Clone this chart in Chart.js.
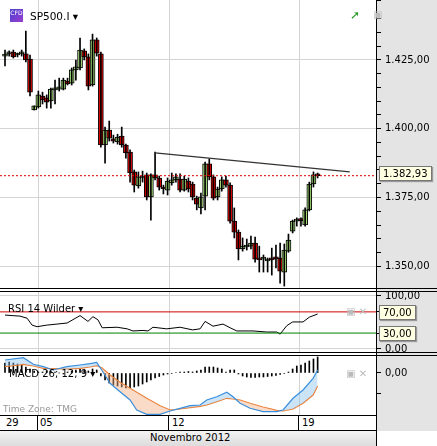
<!DOCTYPE html>
<html>
<head>
<meta charset="utf-8">
<script src="https://cdn.jsdelivr.net/npm/chart.js@4.4.0/dist/chart.umd.min.js"></script>
<style>
  body { margin: 0; background: #fff; font-family: "DejaVu Sans", sans-serif; }
  #wrap { position: relative; width: 437px; height: 446px; overflow: hidden; background: #fff; }
  .abs { position: absolute; }
  canvas { position: absolute; left: 0; }
  .lbl { position: absolute; font-size: 10px; color: #000; white-space: nowrap; }
  .box { position: absolute; background: #ffffe1; border: 1px solid #777; font-size: 10px; padding: 1px 3px; box-shadow: 1px 1px 1px #999; }
  .hl { position: absolute; background: #000; height: 1px; }
</style>
</head>
<body>
<div id="wrap">
  <div class="abs" style="left:376px;top:0;width:61px;height:431px;background:#e4e4e4;"></div>
  <canvas id="main" width="437" height="288" style="top:0"></canvas>
  <canvas id="rsi" width="437" height="60" style="top:292px"></canvas>
  <canvas id="macd" width="437" height="60" style="top:355px"></canvas>
  <div class="hl" style="left:0;top:288px;width:437px;"></div>
  <div class="hl" style="left:0;top:291px;width:437px;"></div>
  <div class="hl" style="left:0;top:352px;width:437px;"></div>
  <div class="hl" style="left:0;top:355px;width:437px;"></div>
  <div class="abs" style="left:376px;top:0;width:1px;height:446px;background:#000;"></div>
  <!-- date axis -->
  <div class="abs" style="left:0;top:415px;width:376px;height:16px;border-top:1px solid #000;border-bottom:1px solid #000;box-sizing:border-box;background:#fff;"></div>
  <div class="abs" style="left:37px;top:415px;width:1px;height:16px;background:#000;"></div>
  <div class="abs" style="left:168px;top:415px;width:1px;height:16px;background:#000;"></div>
  <div class="abs" style="left:298px;top:415px;width:1px;height:16px;background:#000;"></div>
  <div class="lbl" style="left:6px;top:417px;">29</div>
  <div class="lbl" style="left:40px;top:417px;">05</div>
  <div class="lbl" style="left:172px;top:417px;">12</div>
  <div class="lbl" style="left:302px;top:417px;">19</div>
  <div class="abs" style="left:0;top:431px;width:376px;height:15px;background:linear-gradient(#f4f4f4,#dcdcdc);"></div>
  <div class="lbl" style="left:150px;top:432px;">Novembro 2012</div>
  <!-- headers -->
  <div class="abs" style="left:10px;top:9px;width:13px;height:13px;background:linear-gradient(135deg,#4b3fd0,#9a3fd0);color:#fff;font-size:6px;line-height:7px;text-align:center;">CFD</div>
  <div class="lbl" style="left:30px;top:10px;font-size:10.5px;">SP500.I &#9662;</div>
  <div class="lbl" style="left:350px;top:8px;color:#2a9a2a;font-size:12px;font-weight:bold;">&#10138;</div>
  <div class="lbl" style="left:373px;top:9px;color:#bbb;font-size:10px;">&#9635;</div>
  <div class="lbl" style="left:8px;top:303px;">RSI 14 Wilder &#9662;</div>
  <div class="lbl" style="left:346px;top:306px;color:#bbb;">&#9635; &#10005;</div>
  <div class="lbl" style="left:9px;top:368px;">MACD 26; 12; 9 &#9662;</div>
  <div class="lbl" style="left:346px;top:368px;color:#bbb;">&#9635; &#10005;</div>
  <div class="lbl" style="left:3px;top:404px;color:#999;font-size:9px;">Time Zone: TMG</div>
  <div class="box" style="left:379px;top:166px;">1.382,93</div>
  <div class="box" style="left:379px;top:305px;">70,00</div>
  <div class="box" style="left:379px;top:326px;">30,00</div>
</div>
<script>
// candles: open, close, high, low
const opens  = [1426.4,1427.2,1427.9,1426.8,1427.2,1427.2,1425.3,1406.8,1407.9,1411.9,1411.2,1410.1,1414.1,1414.4,1414.4,1417.3,1416.6,1421.4,1422.1,1428.3,1426.1,1415.9,1432.3,1427.2,1394.1,1399.5,1396.3,1395.2,1397.3,1394.1,1391.5,1384.3,1379.2,1382.1,1383.2,1375.2,1383.2,1382.1,1378.8,1377.7,1380.3,1381.4,1381.7,1377.7,1381.0,1379.9,1374.8,1371.2,1375.5,1387.2,1382.5,1375.2,1378.1,1381.4,1379.5,1366.4,1362.4,1356.3,1357.0,1357.3,1358.4,1353.0,1352.6,1351.9,1352.6,1353.0,1353.0,1347.9,1355.5,1362.8,1366.4,1366.7,1365.0,1370.5,1379.9,1383.2];
const closes = [1426.8,1427.5,1426.1,1427.2,1427.5,1425.0,1413.3,1408.3,1412.3,1410.5,1409.7,1414.4,1414.8,1415.2,1417.7,1416.3,1421.4,1422.5,1428.6,1426.1,1415.5,1432.3,1427.5,1394.1,1399.5,1396.6,1395.5,1397.0,1394.1,1391.2,1383.9,1379.5,1382.5,1382.8,1375.2,1383.2,1382.1,1378.8,1378.1,1381.0,1381.4,1382.5,1377.7,1381.7,1378.1,1375.2,1372.6,1375.2,1387.2,1382.5,1374.8,1378.1,1381.4,1379.5,1366.4,1362.4,1356.3,1357.3,1357.7,1358.4,1352.6,1352.3,1352.9,1352.3,1352.3,1352.7,1348.2,1355.9,1359.5,1366.4,1366.7,1366.6,1370.5,1379.9,1383.2,1382.9];
const highs  = [1428.6,1428.3,1428.6,1427.5,1428.6,1435.5,1426.8,1408.3,1413.7,1413.3,1412.3,1414.8,1417.7,1418.4,1418.4,1418.4,1422.1,1425.0,1433.0,1429.0,1427.2,1434.4,1433.0,1427.9,1400.6,1402.8,1397.7,1398.0,1400.6,1394.4,1392.3,1385.0,1384.3,1384.6,1383.9,1383.6,1391.5,1382.8,1379.5,1382.1,1383.9,1383.6,1383.6,1382.8,1382.1,1380.6,1375.5,1376.6,1387.9,1389.0,1383.2,1378.8,1382.5,1382.8,1380.3,1371.2,1363.2,1360.3,1359.9,1361.0,1360.6,1357.3,1354.1,1353.0,1356.6,1357.7,1358.4,1358.1,1361.7,1366.8,1367.6,1367.6,1371.2,1380.6,1384.3,1383.9];
const lows   = [1422.8,1426.4,1425.7,1426.1,1426.4,1424.3,1411.9,1406.8,1407.5,1409.0,1407.5,1407.5,1409.0,1413.7,1414.1,1415.9,1415.9,1417.7,1421.4,1425.0,1414.1,1415.5,1426.4,1393.3,1387.5,1395.5,1394.8,1394.4,1393.3,1389.3,1380.6,1377.0,1378.4,1380.6,1374.1,1366.8,1381.4,1377.7,1376.3,1375.9,1379.5,1380.6,1377.0,1377.3,1377.0,1374.1,1370.5,1369.0,1370.5,1381.4,1374.1,1374.1,1377.3,1378.8,1365.7,1360.3,1352.3,1355.5,1355.9,1356.3,1351.5,1347.9,1347.9,1347.9,1346.8,1349.4,1343.9,1342.8,1355.1,1362.1,1364.6,1364.6,1364.6,1370.1,1378.8,1382.1];
const lastPrice = 1382.93;
const trendX = [36, 82.7];
const trendY = [1391.2, 1384.3];

const rsiX = [0,1.7,3.6,5.3,6.5,7.7,10,12.5,14.9,18,19.9,21.1,22.3,23.3,26.9,29.3,30.7,33.1,34.3,35.5,38.8,42,45,46.8,48,49.9,52.3,54,55.6,59.5,62.8,65.2,66,67.6,69,71.5,73,75];
const rsiY = [64,63,62,58,45,42,45,47,49,63,52,61,55,40,41,38,34,35,34,41,38,41,36,38,52,43,47,40,34,34,32,32,28,44,51,51,60,66];

const macdX = [0,4.4,6.8,9.2,11.6,14.8,18,20.4,22,23.2,25.2,27.6,30,31.6,34,37.2,39.6,42,44.4,46.8,48.4,50.8,53.2,54.7,56.4,58.8,61.9,65.2,66.7,69.1,71.5,73.9,75];
const macdLine = [1.3,1.53,0.87,0.63,0.3,0.63,0.8,0.93,1.07,0.3,-1.03,-1.87,-2.7,-3.7,-4.13,-4.13,-3.8,-3.53,-3.27,-3.2,-2.7,-2.37,-1.93,-2.37,-3.03,-3.53,-3.87,-3.87,-3.7,-2.53,-1.7,-0.53,0.3];
const signalLine = [0.63,0.87,0.7,0.47,0.43,0.4,0.47,0.6,0.73,0.53,-0.2,-0.93,-1.53,-1.93,-2.53,-3.27,-3.7,-3.6,-3.47,-3.33,-3.2,-2.87,-2.53,-2.6,-2.7,-3.03,-3.4,-3.73,-3.8,-3.6,-3.03,-2.2,-1.3];
const histogram = [1.0,1.1,1.0,0.9,0.8,0.6,0.4,0.2,0.1,0.1,0.2,0.2,0.1,0.0,-0.1,0.1,0.2,0.3,0.4,0.3,0.2,0.4,0.3,-0.3,-0.7,-1.0,-1.2,-1.3,-1.4,-1.5,-1.5,-1.4,-1.3,-1.1,-0.9,-0.7,-0.5,-0.35,-0.2,-0.1,-0.05,0.05,0.1,0.1,0.15,0.1,0.2,0.3,0.6,0.6,0.6,0.5,0.4,0.1,0.3,0.3,-0.1,-0.3,-0.4,-0.45,-0.45,-0.4,-0.4,-0.35,-0.3,-0.25,-0.15,-0.05,0.1,0.4,0.7,0.8,1.0,1.2,1.4,1.6];

const dayTicks = [8, 39.5, 70.7];
const X_MIN = -1.2, X_MAX = 89;
const FONT = { family: "DejaVu Sans", size: 10 };

function fmt(v) {
    const s = Math.abs(v).toFixed(2).split(".");
    const int = s[0].replace(/\B(?=(\d{3})+(?!\d))/g, ".");
    return (v < 0 ? "-" : "") + int + "," + s[1];
}

function xScale() {
    return {
        type: "linear", min: X_MIN, max: X_MAX, display: true, offset: false,
        afterBuildTicks: s => { s.ticks = dayTicks.map(v => ({ value: v })); },
        afterFit: s => { s.height = 0; s.paddingLeft = 0; s.paddingRight = 0; },
        ticks: { display: false },
        grid: { color: "#d4d4d4", drawTicks: false, offset: false },
        border: { display: false }
    };
}

function yScale(min, max, extra) {
    return Object.assign({
        type: "linear", position: "right", min: min, max: max,
        afterFit: s => { s.width = 61; s.paddingTop = 0; s.paddingBottom = 0; },
        border: { color: "#000" }
    }, extra);
}

const baseOpts = {
    responsive: false, animation: false,
    layout: { padding: 0 },
    plugins: { legend: { display: false }, tooltip: { enabled: false } },
    datasets: { bar: { grouped: false } }
};

const idx = closes.map((_, i) => i);

// Main price chart
new Chart(document.getElementById("main"), {
    type: "bar",
    data: {
        datasets: [
            {
                type: "line", data: [{ x: X_MIN, y: lastPrice }, { x: X_MAX, y: lastPrice }],
                borderColor: "#e00000", borderWidth: 1, borderDash: [2, 2], pointRadius: 0
            },
            {
                type: "line", data: trendX.map((x, i) => ({ x: x, y: trendY[i] })),
                borderColor: "#333", borderWidth: 1.2, pointRadius: 0
            },
            {
                data: idx.map(i => ({ x: i, y: [lows[i], highs[i]] })),
                backgroundColor: "#000", barThickness: 1, borderWidth: 0
            },
            {
                data: idx.map(i => ({ x: i, y: [opens[i], closes[i]] })),
                backgroundColor: idx.map(i => closes[i] >= opens[i] ? "#a6e07a" : "#e00000"),
                borderColor: "#000", borderWidth: 1, borderSkipped: false, barThickness: 5, minBarLength: 2
            }
        ]
    },
    options: Object.assign({}, baseOpts, {
        scales: {
            x: xScale(),
            y: yScale(1342.1, 1446.8, {
                ticks: { stepSize: 5, autoSkip: false, font: FONT, color: "#000", padding: 4,
                    callback: v => (v % 25 === 0 ? fmt(v) : "") },
                grid: { color: c => (c.tick && c.tick.value % 25 === 0 ? "#d4d4d4" : "rgba(0,0,0,0)"),
                    tickColor: "#000", tickLength: 5 }
            })
        }
    })
});

// RSI
new Chart(document.getElementById("rsi"), {
    type: "line",
    data: {
        datasets: [
            { data: [{ x: X_MIN, y: 70 }, { x: X_MAX, y: 70 }], borderColor: "#d00000", borderWidth: 1, pointRadius: 0 },
            { data: [{ x: X_MIN, y: 30 }, { x: X_MAX, y: 30 }], borderColor: "#008000", borderWidth: 1, pointRadius: 0 },
            { data: rsiX.map((x, i) => ({ x: x, y: rsiY[i] })), borderColor: "#000", borderWidth: 1, pointRadius: 0 }
        ]
    },
    options: Object.assign({}, baseOpts, {
        scales: {
            x: xScale(),
            y: yScale(-5.7, 107.5, {
                afterBuildTicks: s => { s.ticks = [0, 30, 70, 100].map(v => ({ value: v })); },
                ticks: { autoSkip: false, font: FONT, color: "#000", padding: 4,
                    callback: v => (v === 0 || v === 100 ? fmt(v) : "") },
                grid: { color: c => (c.tick && (c.tick.value === 0 || c.tick.value === 100) ? "#d4d4d4" : "rgba(0,0,0,0)"),
                    tickColor: "#000", tickLength: 5 }
            })
        }
    })
});

// MACD
new Chart(document.getElementById("macd"), {
    type: "bar",
    data: {
        datasets: [
            {
                type: "line", data: macdX.map((x, i) => ({ x: x, y: macdLine[i] })),
                borderColor: "#3b8fdc", borderWidth: 1.2, pointRadius: 0,
                fill: { target: 1, above: "rgba(140,195,240,0.45)", below: "rgba(245,175,130,0.45)" }
            },
            {
                type: "line", data: macdX.map((x, i) => ({ x: x, y: signalLine[i] })),
                borderColor: "#f07a28", borderWidth: 1.2, pointRadius: 0
            },
            {
                data: histogram.map((v, i) => ({ x: i, y: v })),
                backgroundColor: "#000", barThickness: 1, borderWidth: 0
            }
        ]
    },
    options: Object.assign({}, baseOpts, {
        scales: {
            x: xScale(),
            y: yScale(-4.2, 1.8, {
                afterBuildTicks: s => { s.ticks = [-2, 0].map(v => ({ value: v })); },
                ticks: { autoSkip: false, font: FONT, color: "#000", padding: 4, callback: v => (v === 0 ? fmt(v) : "") },
                grid: { color: "rgba(0,0,0,0)", tickColor: "#000", tickLength: 5 }
            })
        }
    })
});
</script>
</body>
</html>
